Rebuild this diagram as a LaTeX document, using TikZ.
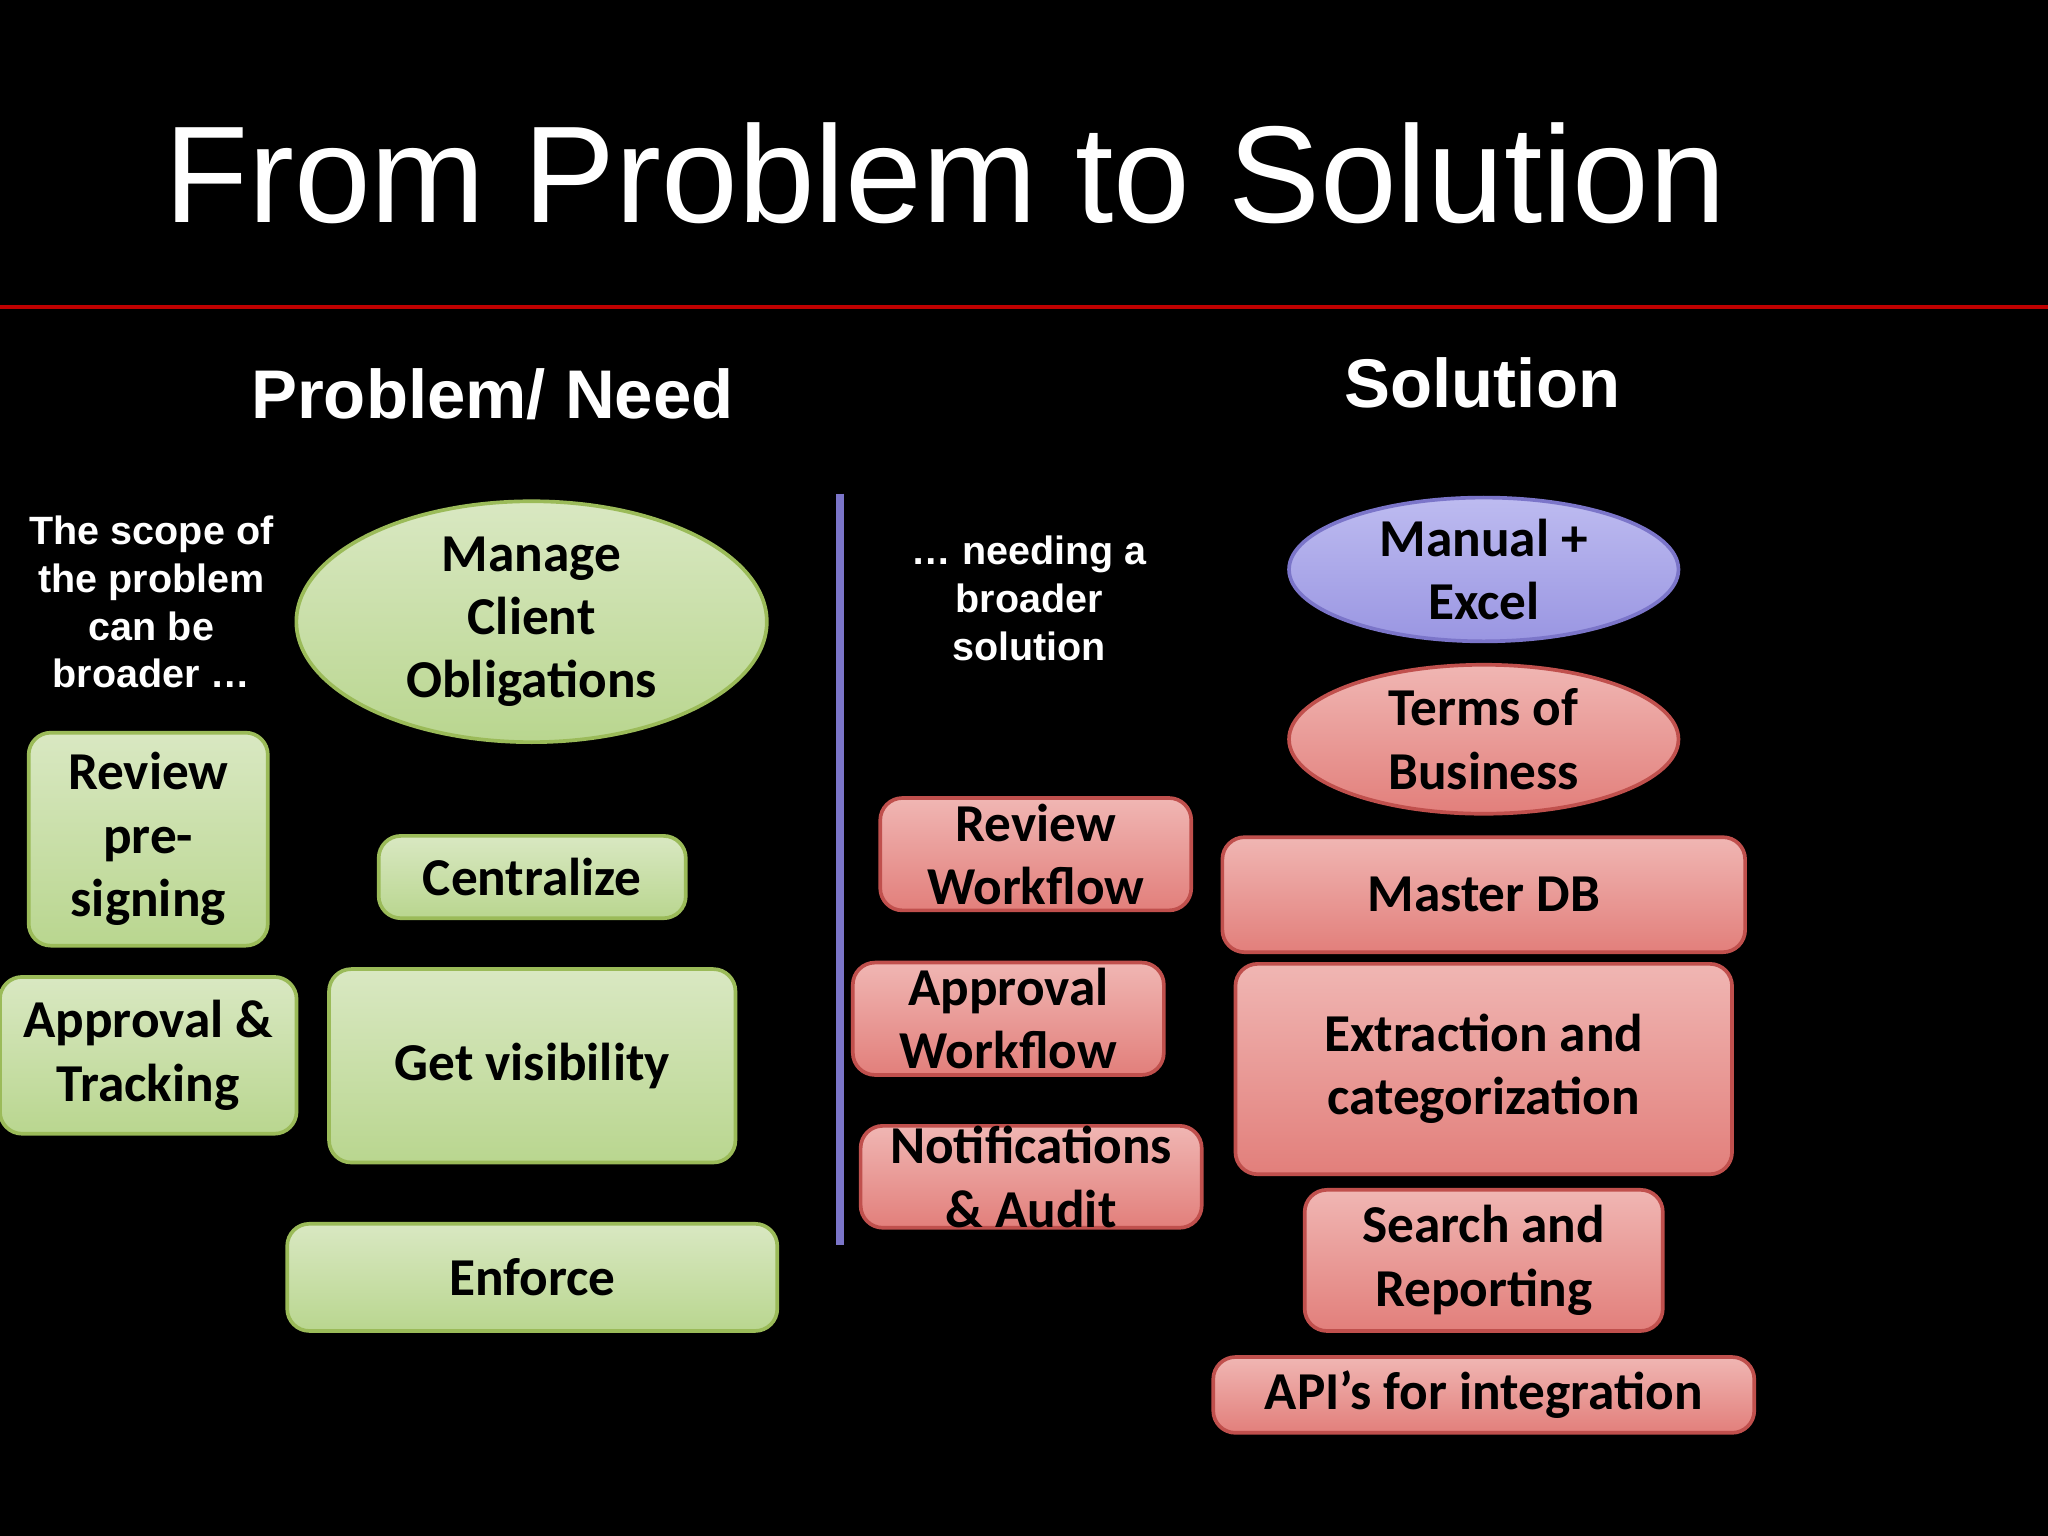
\documentclass[tikz,border=0pt]{standalone}
\usepackage{fontspec}
\setmainfont{Carlito}
\newfontfamily\hd{Liberation Sans}
\usetikzlibrary{shapes.geometric}
\definecolor{gbord}{HTML}{9BBB59}
\definecolor{gtop}{HTML}{D9E8C2}
\definecolor{gbot}{HTML}{B9D68F}
\definecolor{rbord}{HTML}{C0504D}
\definecolor{rtop}{HTML}{F0B6B3}
\definecolor{rbot}{HTML}{E27F7B}
\definecolor{ptop}{HTML}{BDBBF0}
\definecolor{pbot}{HTML}{9A96E2}
\definecolor{pbord}{HTML}{7B75C9}
\tikzset{
 txt/.style={font=\bfseries\fontsize{11.6pt}{13.8pt}\selectfont, align=center, text=black, inner sep=0pt},
 gbox/.style={txt, draw=gbord, line width=0.8pt, rounded corners=0.17cm, top color=gtop, bottom color=gbot},
 rbox/.style={txt, draw=rbord, line width=0.8pt, rounded corners=0.17cm, top color=rtop, bottom color=rbot},
 gell/.style={txt, ellipse, draw=gbord, line width=0.8pt, top color=gtop, bottom color=gbot},
 rell/.style={txt, ellipse, draw=rbord, line width=0.8pt, top color=rtop, bottom color=rbot},
 pell/.style={txt, ellipse, draw=pbord, line width=0.8pt, top color=ptop, bottom color=pbot},
 wtxt/.style={font=\hd\bfseries\fontsize{8.6pt}{10.4pt}\selectfont, text=white, align=center, inner sep=0pt},
}
\begin{document}
\begin{tikzpicture}[x=0.01cm,y=-0.01cm]
\fill[black] (0,0) rectangle (1568,1176);
\useasboundingbox (0,0) rectangle (1568,1176);
\node[anchor=base west, text=white, inner sep=0pt, font=\hd\fontsize{30pt}{30pt}\selectfont] (title) at (125,170) {From Problem to Solution};
\draw[red!75!black, line width=0.9pt] (0,235) -- (1568,235);
\node[text=white, font=\hd\bfseries\fontsize{15pt}{18pt}\selectfont] (pn) at (377,302) {Problem/ Need};
\node[text=white, font=\hd\bfseries\fontsize{15pt}{18pt}\selectfont] (sol) at (1135,293) {Solution};
\draw[color=pbord, line width=1.6pt] (643,378) -- (643,953);
\node[wtxt] (scope) at (116,461) {The scope of\\the problem\\can be\\broader …};
\node[wtxt] (need) at (788,458) {… needing a\\broader\\solution};
\node[gell, minimum width=360\pgflinewidth*0+3.6cm, minimum height=1.7cm] (manage) at (407,476) {Manage\\Client\\Obligations};
\node[gbox, minimum width=1.83cm, minimum height=1.63cm] (rev) at (113.5,642.5) {Review\\pre-\\signing};
\node[gbox, minimum width=2.35cm, minimum height=0.63cm] (cent) at (407.5,671.5) {Centralize};
\node[gbox, minimum width=2.27cm, minimum height=1.2cm] (appr) at (113.5,808) {Approval \&\\Tracking};
\node[gbox, minimum width=3.11cm, minimum height=1.48cm] (vis) at (407.5,816) {Get visibility};
\node[gbox, minimum width=3.75cm, minimum height=0.82cm] (enf) at (407.5,978) {Enforce};
\node[rbox, minimum width=2.38cm, minimum height=0.86cm] (rw) at (793,654) {Review\\Workflow};
\node[rbox, minimum width=2.38cm, minimum height=0.86cm] (aw) at (772,780) {Approval\\Workflow};
\node[rbox, minimum width=2.61cm, minimum height=0.78cm] (na) at (789.5,901) {Notifications\\\& Audit};
\node[pell, minimum width=2.98cm, minimum height=1.1cm] (man) at (1136,436) {Manual +\\Excel};
\node[rell, minimum width=2.98cm, minimum height=1.14cm] (tob) at (1136,566) {Terms of\\Business};
\node[rbox, minimum width=4.0cm, minimum height=0.88cm] (mdb) at (1136,685) {Master DB};
\node[rbox, minimum width=3.8cm, minimum height=1.61cm] (ext) at (1136,818.5) {Extraction and\\categorization};
\node[rbox, minimum width=2.74cm, minimum height=1.08cm] (sr) at (1136,965) {Search and\\Reporting};
\node[rbox, minimum width=4.14cm, minimum height=0.58cm] (api) at (1136,1068) {API’s for integration};
\end{tikzpicture}
\end{document}
